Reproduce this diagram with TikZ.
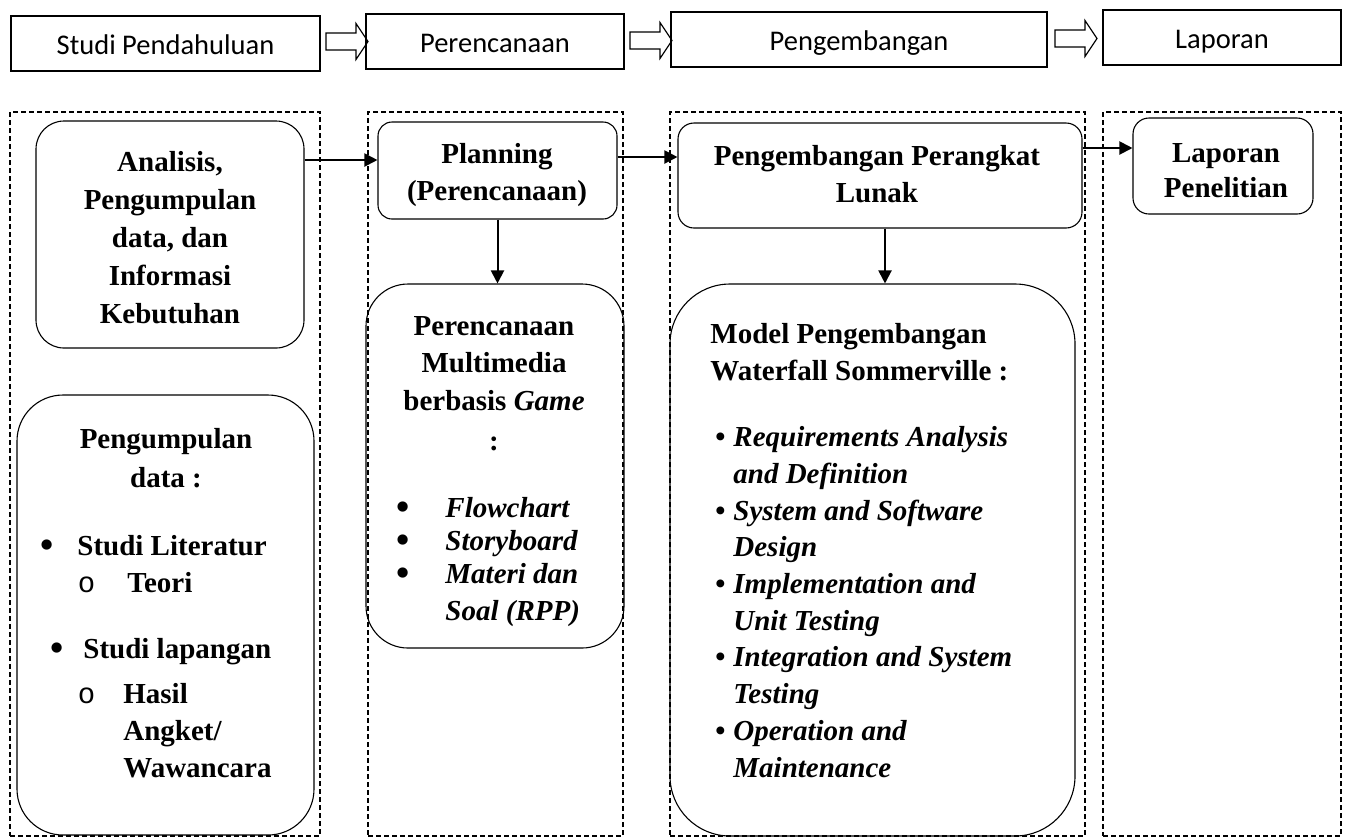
\documentclass[tikz,border=0pt]{standalone}
\usepackage{fontspec}
\usepackage{graphicx}
\setmainfont{Liberation Serif}
\newfontfamily\calib{Carlito}
\newfontfamily\cour{Liberation Mono}
\usetikzlibrary{fit,arrows.meta,calc}
\newcommand\mybul{\raisebox{-1.2pt}{\scalebox{1.3}{\upshape•}}}
\begin{document}
\begin{tikzpicture}[x=0.5pt,y=-0.5pt,
  hbox/.style={draw, line width=1pt, inner sep=0, minimum height=27.5pt,
    font={\calib\fontsize{14.25}{17}\selectfont}, text height=14pt, text depth=3pt},
  dbox/.style={draw, dash pattern=on 2.5pt off 1.5pt, line width=0.55pt, inner sep=0},
  rbox/.style={draw, line width=0.55pt, inner sep=0},
  txt/.style={inner sep=0, align=center, anchor=base,
    font={\fontsize{14.5}{19}\selectfont\bfseries}},
  ltxt/.style={inner sep=0, align=left, anchor=base west,
    font={\fontsize{14.5}{19}\selectfont\bfseries}},
  arr/.style={line width=1pt, -{Triangle[length=6.5pt,width=6.5pt]}},
  hollow/.style={draw, line width=0.6pt, line join=miter}
]
\useasboundingbox (0,0) rectangle (1347,837);

% header row
\node[hbox, minimum width=154.5pt] (h1) at (165.5,43.5) {Studi Pendahuluan};
\node[hbox, minimum width=129pt] (h2) at (495,41.5) {Perencanaan};
\node[hbox, minimum width=188pt] (h3) at (859,39.5) {Pengembangan};
\node[hbox, minimum width=119pt] (h4) at (1222,37.5) {Laporan};

\draw[hollow] ($(h1.east)+(5,-2)$) ++(0,-8.5) -- ++(30,0) -- ++(0,-9.5) -- ++(12,18) -- ++(-12,18) -- ++(0,-9.5) -- ++(-30,0) -- cycle;
\draw[hollow] ($(h2.east)+(5,-1)$) ++(0,-8.5) -- ++(30,0) -- ++(0,-9.5) -- ++(12,18) -- ++(-12,18) -- ++(0,-9.5) -- ++(-30,0) -- cycle;
\draw[hollow] ($(h3.east)+(7,-1)$) ++(0,-8.5) -- ++(30,0) -- ++(0,-9.5) -- ++(12,18) -- ++(-12,18) -- ++(0,-9.5) -- ++(-30,0) -- cycle;

% dashed columns
\node[dbox, fit={(10,112) (320,836)}] (d1) {};
\node[dbox, fit={(368,112) (623,836)}] (d2) {};
\node[dbox, fit={(670,112) (1085,836)}] (d3) {};
\node[dbox, fit={(1103,112) (1341,836)}] (d4) {};

% rounded boxes
\node[rbox, rounded corners=14pt, fit={(36,121) (304,348)}] (analisis) {};
\node[rbox, rounded corners=23pt, fit={(17,395) (314,835)}] (pengumpulan) {};
\node[rbox, rounded corners=7pt, fit={(378,122) (617,219)}] (planning) {};
\node[rbox, rounded corners=21pt, fit={(366,284) (624,648)}] (multimedia) {};
\node[rbox, rounded corners=8pt, fit={(678,123) (1082,228)}] (ppl) {};
\node[rbox, rounded corners=30pt, fit={(670,284) (1075,836)}] (model) {};
\node[rbox, rounded corners=8pt, fit={(1133,118) (1313,214)}] (laporan) {};

% texts (anchor base = baseline of the last line)
\node[txt] (tAnalisis) at (170,323) {Analisis,\\Pengumpulan\\data, dan\\Informasi\\Kebutuhan};
\node[txt] (tPlanning) at (497,200) {Planning\\[-0.5pt](Perencanaan)};
\node[txt] (tPpl) at (877,202) {Pengembangan Perangkat\\[-0.5pt]Lunak};
\node[txt] (tLaporan) at (1226,197) {Laporan\\[-1.5pt]Penelitian};

\node[txt] (tPengumpulan) at (166,487) {Pengumpulan\\[0.5pt]data :};
\node[ltxt] (tLit) at (77,555) {\llap{\mybul\hspace{12pt}}Studi Literatur};
\node[ltxt] (tTeori) at (127,592) {\llap{{\cour\mdseries o}\hspace{16pt}}Teori};
\node[ltxt] (tLap) at (83,658) {\llap{\mybul\hspace{10pt}}Studi lapangan};
\node[ltxt] (tHasil) at (123,777) {\llap{{\cour\mdseries o}\hspace{14pt}}Hasil\\[-0.5pt]Angket/\\[-0.5pt]Wawancara};

\node[txt] (tMulti) at (494,450) {Perencanaan\\[-0.25pt]Multimedia\\[-0.25pt]berbasis \textit{Game}\\[1pt]:};
\node[ltxt] (tMList) at (445,620) {\llap{\mybul\hspace{18pt}}\textit{Flowchart}\\[-2.5pt]\llap{\mybul\hspace{18pt}}\textit{Storyboard}\\[-2.5pt]\llap{\mybul\hspace{18pt}}\textit{Materi dan}\\[-0.5pt]\textit{Soal (RPP)}};

\node[ltxt] (tModel) at (710,380) {Model Pengembangan\\[-0.5pt]Waterfall Sommerville :};
\node[ltxt, font={\fontsize{14.5}{18.35}\selectfont\bfseries\itshape}] (tModelList) at (733,777)
 {\llap{\upshape•\hspace{4pt}}Requirements Analysis\\and Definition\\
  \llap{\upshape•\hspace{4pt}}System and Software\\Design\\
  \llap{\upshape•\hspace{4pt}}Implementation and\\Unit Testing\\
  \llap{\upshape•\hspace{4pt}}Integration and System\\Testing\\
  \llap{\upshape•\hspace{4pt}}Operation and\\Maintenance};

% connectors
\draw[arr] (analisis.east |- 0,160) -- (planning.west |- 0,160);
\draw[arr] (planning.east |- 0,157) -- (ppl.west |- 0,157);
\draw[arr] (ppl.east |- 0,148) -- (laporan.west |- 0,148);
\draw[arr] (planning.south) -- (planning.south |- multimedia.north);
\draw[arr] ([xshift=2.5pt]ppl.south) -- ([xshift=2.5pt]ppl.south |- model.north);
\end{tikzpicture}
\end{document}
